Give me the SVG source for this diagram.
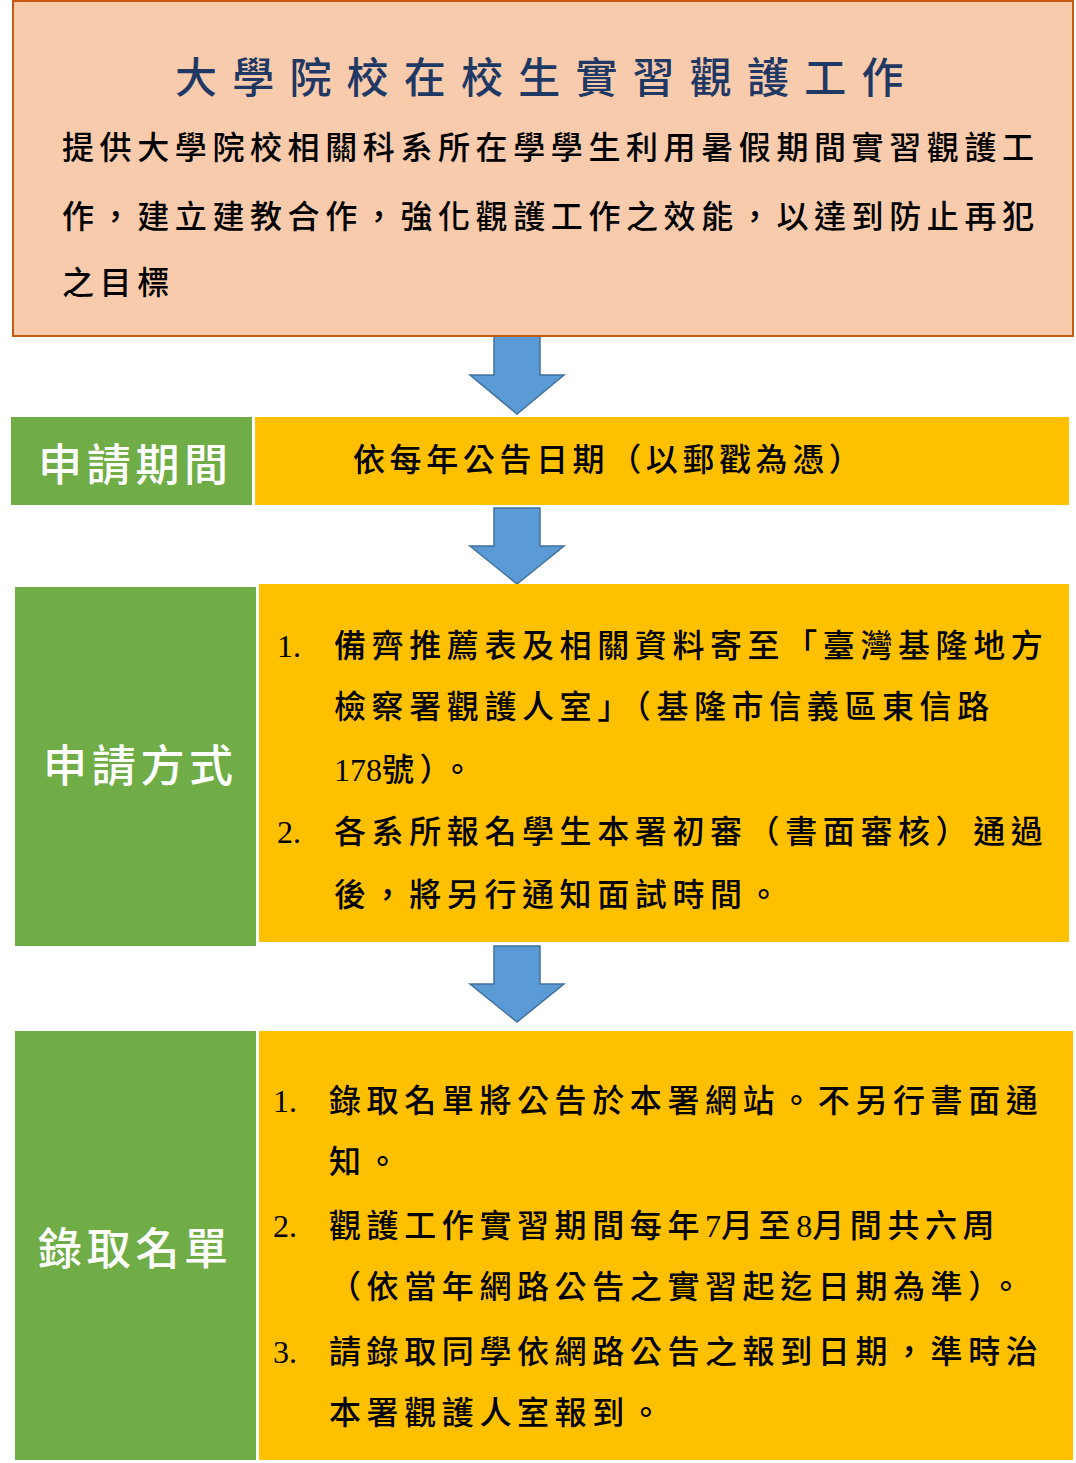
<svg xmlns="http://www.w3.org/2000/svg" width="1076" height="1463" viewBox="0 0 1076 1463">
<style>
.t{font-family:"Liberation Serif","Noto Sans CJK TC","Noto Sans CJK JP",serif;font-weight:500;fill:#000;font-size:32px;letter-spacing:5.6px}
.n{letter-spacing:0}
.lbl{font-family:"Noto Sans CJK TC","Noto Sans CJK JP",sans-serif;font-weight:500;fill:#fff;font-size:44px;letter-spacing:4.7px}
.green{fill:#70AD47}
.yellow{fill:#FFC000}
.arrow{fill:#5B9BD5;stroke:#41719C;stroke-width:1.5;stroke-linejoin:miter}
</style>
<rect width="1076" height="1463" fill="#fff"/>
<g id="connectors">
<polygon class="arrow" points="494,336 540,336 540,375 564,375 517,414 470,375 494,375"/>
<polygon class="arrow" points="494,508 540,508 540,546 564,546 517,584 470,546 494,546"/>
<polygon class="arrow" points="494,946 540,946 540,984 564,984 517,1022 470,984 494,984"/>
</g>
<g id="intro">
<rect x="13" y="1" width="1060" height="335" fill="#F8CBAD" stroke="#C55A11" stroke-width="2"/>
<text x="175" y="93" font-family="Noto Sans CJK TC, Noto Sans CJK JP, sans-serif" font-weight="500" font-size="42" letter-spacing="15.2" fill="#1F3864">大學院校在校生實習觀護工作</text>
<text class="t" x="62" y="159">提供大學院校相關科系所在學學生利用暑假期間實習觀護工</text>
<text class="t" x="62" y="228">作，建立建教合作，強化觀護工作之效能，以達到防止再犯</text>
<text class="t" x="62" y="294">之目標</text>
</g>
<g id="period">
<rect class="green" x="11" y="417" width="241" height="88"/>
<text class="lbl" x="38" y="481">申請期間</text>
<rect class="yellow" x="255" y="417" width="814" height="88"/>
<text class="t" x="353" y="471" style="letter-spacing:4.6px">依每年公告日期（以郵戳為憑）</text>
</g>
<g id="method">
<rect class="green" x="15" y="587" width="241" height="359"/>
<text class="lbl" x="43" y="782">申請方式</text>
<rect class="yellow" x="259" y="584" width="810" height="358"/>
<text class="t n" x="277" y="657">1.</text>
<text class="t" x="334" y="657">備齊推薦表及相關資料寄至「臺灣基隆地方</text>
<text class="t" x="334" y="718">檢察署觀護人室」（基隆市信義區東信路</text>
<text class="t" x="334" y="781"><tspan class="n">178</tspan>號）。</text>
<text class="t n" x="277" y="843">2.</text>
<text class="t" x="334" y="843">各系所報名學生本署初審（書面審核）通過</text>
<text class="t" x="334" y="906">後，將另行通知面試時間。</text>
</g>
<g id="admission">
<rect class="green" x="15" y="1031" width="241" height="429"/>
<text class="lbl" x="38" y="1265">錄取名單</text>
<rect class="yellow" x="259" y="1031" width="814" height="429"/>
<text class="t n" x="273" y="1112">1.</text>
<text class="t" x="329" y="1112">錄取名單將公告於本署網站。不另行書面通</text>
<text class="t" x="329" y="1173">知。</text>
<text class="t n" x="273" y="1237">2.</text>
<text class="t" x="329" y="1237">觀護工作實習期間每年<tspan class="n">7</tspan>月至<tspan class="n">8</tspan>月間共六周</text>
<text class="t" x="329" y="1298">（依當年網路公告之實習起迄日期為準）。</text>
<text class="t n" x="273" y="1363">3.</text>
<text class="t" x="329" y="1363">請錄取同學依網路公告之報到日期，準時治</text>
<text class="t" x="329" y="1424">本署觀護人室報到。</text>
</g>
</svg>
